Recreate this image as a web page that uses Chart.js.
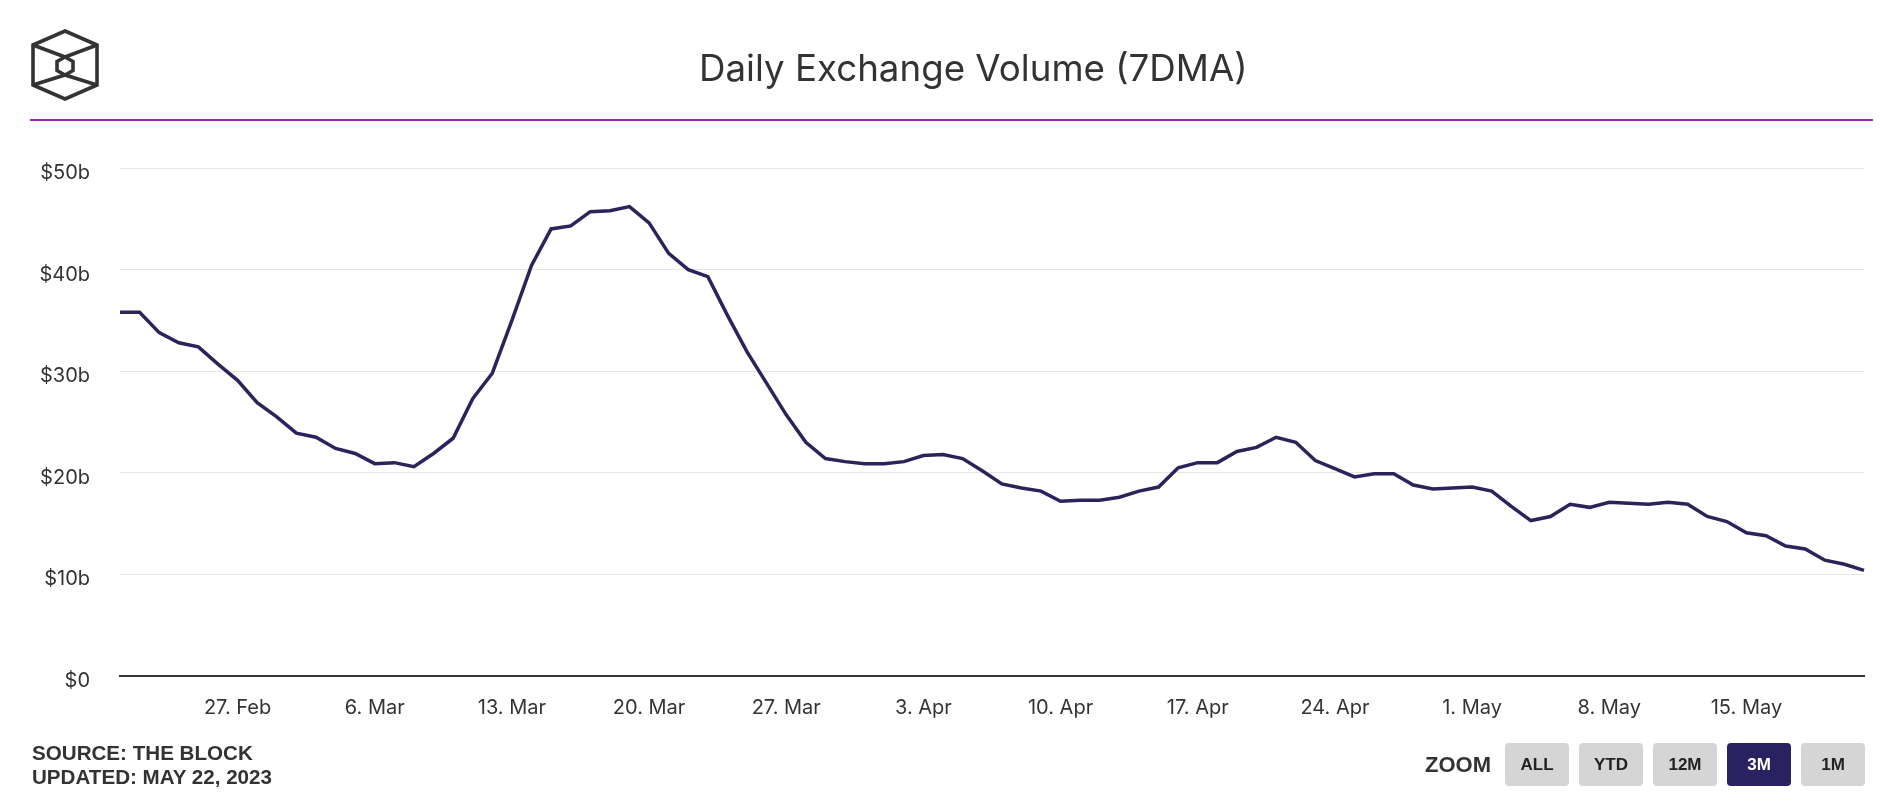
<!DOCTYPE html>
<html>
<head>
<meta charset="utf-8">
<script src="https://cdn.jsdelivr.net/npm/chart.js@4/dist/chart.umd.min.js"></script>
<style>
  html, body { margin: 0; padding: 0; background: #fff; overflow: hidden; }
  #wrap { position: relative; width: 1898px; height: 803px; }
  #c { position: absolute; left: 0; top: 0; }
  .abs { position: absolute; white-space: nowrap; }
  #title { left: 699px; top: 49px; font-family: Inter, "Noto Sans", sans-serif; font-size: 36.7px; line-height: 37px; color: #333; font-weight: 400; }
  #rule { left: 30px; top: 119px; width: 1843px; height: 2px; background: #9c27b0; }
  #footer { left: 32px; top: 741px; font-family: "Liberation Sans", Arial, sans-serif; font-weight: 700; font-size: 20.6px; line-height: 24px; color: #333; }
  #zoomlbl { left: 1425px; top: 754px; font-family: "Liberation Sans", Arial, sans-serif; font-weight: 700; font-size: 22px; line-height: 22px; color: #333; }
  .btn { position: absolute; top: 743px; width: 64px; height: 43px; border-radius: 4px; background: #d5d5d5; color: #222;
         font-family: "Liberation Sans", Arial, sans-serif; font-weight: 700; font-size: 17px; display: flex; align-items: center; justify-content: center; }
  .btn.sel { background: #2a2160; color: #fff; }
  #logo { left: 28px; top: 27px; }
</style>
</head>
<body>
<div id="wrap">
  <canvas id="c" width="1898" height="803"></canvas>
  <svg id="logo" class="abs" width="74" height="76" viewBox="28 27 74 76">
    <g fill="none" stroke="#333" stroke-width="3.6" stroke-linejoin="miter">
      <polygon points="65,31 97,45 97,85 65,99 33,85 33,45"/>
      <polyline points="33,45 65,57 97,45"/>
      <polygon points="65,57 73,61.5 73,70.5 65,75 57,70.5 57,61.5"/>
      <polyline points="33,85 65,75 97,85"/>
    </g>
  </svg>
  <div id="title" class="abs">Daily Exchange Volume (7DMA)</div>
  <div id="rule" class="abs"></div>
  <div id="footer" class="abs">SOURCE: THE BLOCK<br>UPDATED: MAY 22, 2023</div>
  <div id="zoomlbl" class="abs">ZOOM</div>
  <div class="btn" style="left:1505px">ALL</div>
  <div class="btn" style="left:1579px">YTD</div>
  <div class="btn" style="left:1653px">12M</div>
  <div class="btn sel" style="left:1727px">3M</div>
  <div class="btn" style="left:1801px">1M</div>
</div>
<script>
const categories = [
  'Feb 21','Feb 22','Feb 23','Feb 24','Feb 25','Feb 26','Feb 27','Feb 28',
  'Mar 1','Mar 2','Mar 3','Mar 4','Mar 5','Mar 6','Mar 7','Mar 8','Mar 9','Mar 10',
  'Mar 11','Mar 12','Mar 13','Mar 14','Mar 15','Mar 16','Mar 17','Mar 18','Mar 19','Mar 20',
  'Mar 21','Mar 22','Mar 23','Mar 24','Mar 25','Mar 26','Mar 27','Mar 28','Mar 29','Mar 30','Mar 31',
  'Apr 1','Apr 2','Apr 3','Apr 4','Apr 5','Apr 6','Apr 7','Apr 8','Apr 9','Apr 10',
  'Apr 11','Apr 12','Apr 13','Apr 14','Apr 15','Apr 16','Apr 17','Apr 18','Apr 19','Apr 20',
  'Apr 21','Apr 22','Apr 23','Apr 24','Apr 25','Apr 26','Apr 27','Apr 28','Apr 29','Apr 30',
  'May 1','May 2','May 3','May 4','May 5','May 6','May 7','May 8','May 9','May 10',
  'May 11','May 12','May 13','May 14','May 15','May 16','May 17','May 18','May 19','May 20','May 21'
];

const volume7dma = [
  35.8, 35.8, 33.8, 32.8, 32.4, 30.7, 29.1, 26.9,
  25.5, 23.9, 23.5, 22.4, 21.9, 20.9, 21.0, 20.6, 21.9, 23.4,
  27.3, 29.8, 35.0, 40.4, 44.0, 44.3, 45.7, 45.8, 46.2, 44.6,
  41.6, 40.0, 39.3, 35.5, 31.9, 28.8, 25.7, 23.0, 21.4, 21.1, 20.9,
  20.9, 21.1, 21.7, 21.8, 21.4, 20.2, 18.9, 18.5, 18.2, 17.2,
  17.3, 17.3, 17.6, 18.2, 18.6, 20.5, 21.0, 21.0, 22.1, 22.5,
  23.5, 23.0, 21.2, 20.4, 19.6, 19.9, 19.9, 18.8, 18.4, 18.5,
  18.6, 18.2, 16.7, 15.3, 15.7, 16.9, 16.6, 17.1, 17.0, 16.9,
  17.1, 16.9, 15.7, 15.2, 14.1, 13.8, 12.8, 12.5, 11.4, 11.0, 10.4
];

const xTickCategories = ['Feb 27','Mar 6','Mar 13','Mar 20','Mar 27','Apr 3','Apr 10','Apr 17','Apr 24','May 1','May 8','May 15'];
const xTickLabels = ['27. Feb','6. Mar','13. Mar','20. Mar','27. Mar','3. Apr','10. Apr','17. Apr','24. Apr','1. May','8. May','15. May'];
const yTickLabels = ['$0','$10b','$20b','$30b','$40b','$50b'];

const axisFont = { family: 'Inter, "Noto Sans", sans-serif', size: 20 };

new Chart(document.getElementById('c'), {
  type: 'line',
  data: {
    labels: categories,
    datasets: [{
      label: 'Daily Exchange Volume (7DMA)',
      data: volume7dma,
      borderColor: '#2b2359',
      borderWidth: 3.5,
      pointRadius: 0,
      tension: 0,
      fill: false
    }]
  },
  options: {
    responsive: false,
    animation: false,
    devicePixelRatio: 1,
    layout: { padding: { left: 0, top: 168, right: 34, bottom: 67 } },
    plugins: { legend: { display: false }, tooltip: { enabled: false }, title: { display: false } },
    scales: {
      x: {
        type: 'category',
        offset: false,
        grid: { display: false, drawTicks: false },
        border: { display: true, color: '#333333', width: 2 },
        afterBuildTicks: (scale) => {
          scale.ticks = xTickCategories.map(c => ({ value: categories.indexOf(c) }));
        },
        afterFit: (scale) => { scale.height = 60; },
        ticks: {
          autoSkip: false,
          maxRotation: 0,
          minRotation: 0,
          padding: 20,
          color: '#333333',
          font: axisFont,
          callback: (v, i) => xTickLabels[i]
        }
      },
      y: {
        min: 0,
        max: 50,
        grid: { color: '#e6e6e6', lineWidth: 1, drawTicks: false },
        border: { display: false },
        afterFit: (scale) => { scale.width = 120; },
        ticks: {
          stepSize: 10,
          padding: 30,
          labelOffset: 5,
          color: '#333333',
          font: axisFont,
          callback: (v, i) => yTickLabels[i]
        }
      }
    }
  }
});
</script>
</body>
</html>
